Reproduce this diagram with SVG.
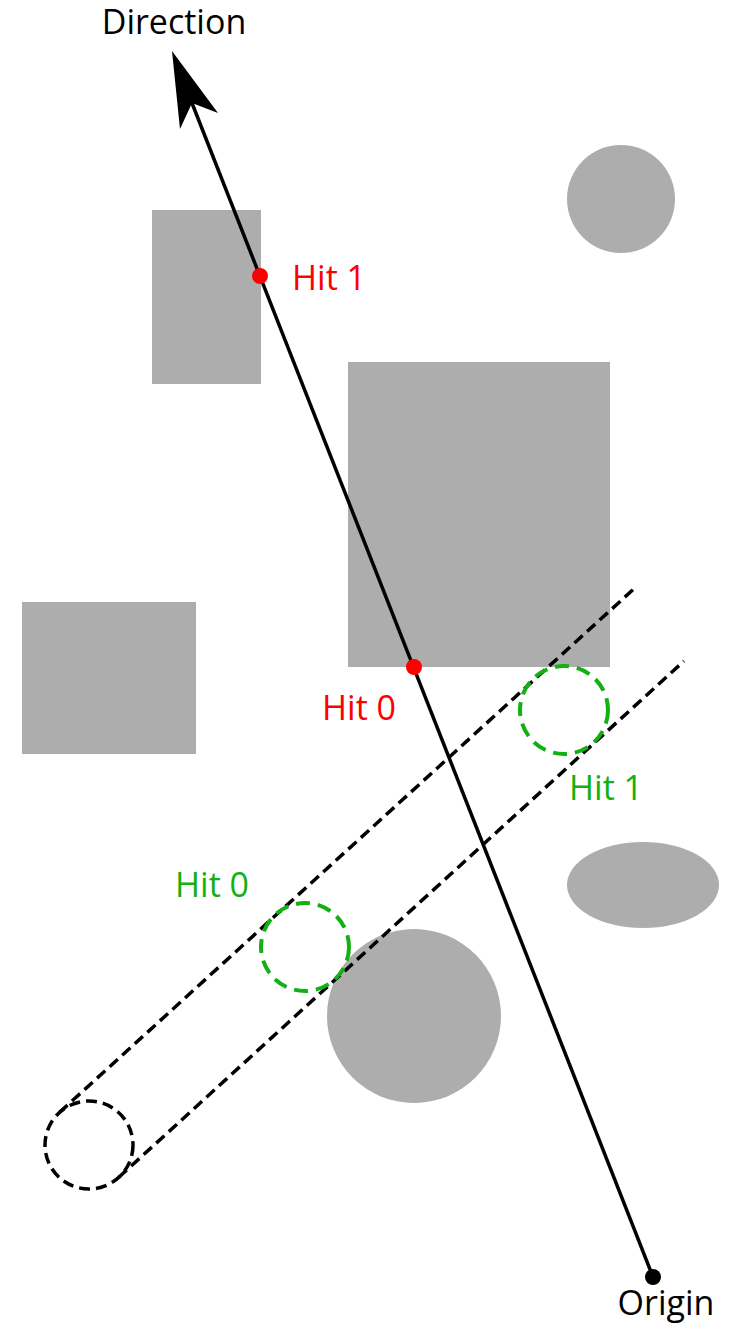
<svg xmlns="http://www.w3.org/2000/svg" width="733" height="1325" viewBox="0 0 733 1325">
<style>
.obs{fill:#adadad}
.lbl{font-family:"Open Sans","Noto Sans",sans-serif;font-size:34px}
.red{fill:#ff0000}
.grn{fill:#13b013}
.blk{fill:#000}
.dash{fill:none;stroke:#000;stroke-width:3.5;stroke-dasharray:11 6}
.gc{fill:none;stroke:#13b013;stroke-width:4;stroke-dasharray:14 8}
</style>
<rect width="733" height="1325" fill="#fff"/>
<g id="obstacles">
<rect id="rect-a" class="obs" x="152" y="210" width="109" height="174"/>
<rect id="rect-b" class="obs" x="348" y="362" width="262" height="305"/>
<rect id="rect-c" class="obs" x="22" y="602" width="174" height="152"/>
<circle id="circle-top" class="obs" cx="621" cy="199" r="54"/>
<ellipse id="ellipse" class="obs" cx="643" cy="885" rx="76" ry="43"/>
<circle id="circle-big" class="obs" cx="414" cy="1016" r="87"/>
</g>
<g id="connectors">
<line x1="59.4" y1="1112.5" x2="637" y2="586" class="dash"/>
<line x1="118.6" y1="1177.5" x2="684" y2="661" class="dash"/>
<line x1="653" y1="1277" x2="190" y2="98" stroke="#000" stroke-width="3.5"/>
<path d="M172 51 L218 113 L192 103 L180 129 Z" fill="#000"/>
</g>
<g id="sphere-start"><circle cx="89" cy="1145" r="44" class="dash"/></g>
<g id="sphere-hit0"><circle cx="305" cy="947" r="44" class="gc"/></g>
<g id="sphere-hit1"><circle cx="564" cy="710" r="44" class="gc"/></g>
<g id="ray-hit1"><circle cx="260" cy="276" r="8" class="red"/></g>
<g id="ray-hit0"><circle cx="414" cy="667" r="8" class="red"/></g>
<g id="origin"><circle cx="653" cy="1277" r="8" class="blk"/></g>
<g id="labels">
<text class="lbl blk" x="174" y="34" text-anchor="middle">Direction</text>
<text class="lbl red" x="292" y="290">Hit 1</text>
<text class="lbl red" x="322" y="720">Hit 0</text>
<text class="lbl grn" x="569" y="800">Hit 1</text>
<text class="lbl grn" x="175" y="897">Hit 0</text>
<text class="lbl blk" x="666" y="1315" text-anchor="middle">Origin</text>
</g>
</svg>
